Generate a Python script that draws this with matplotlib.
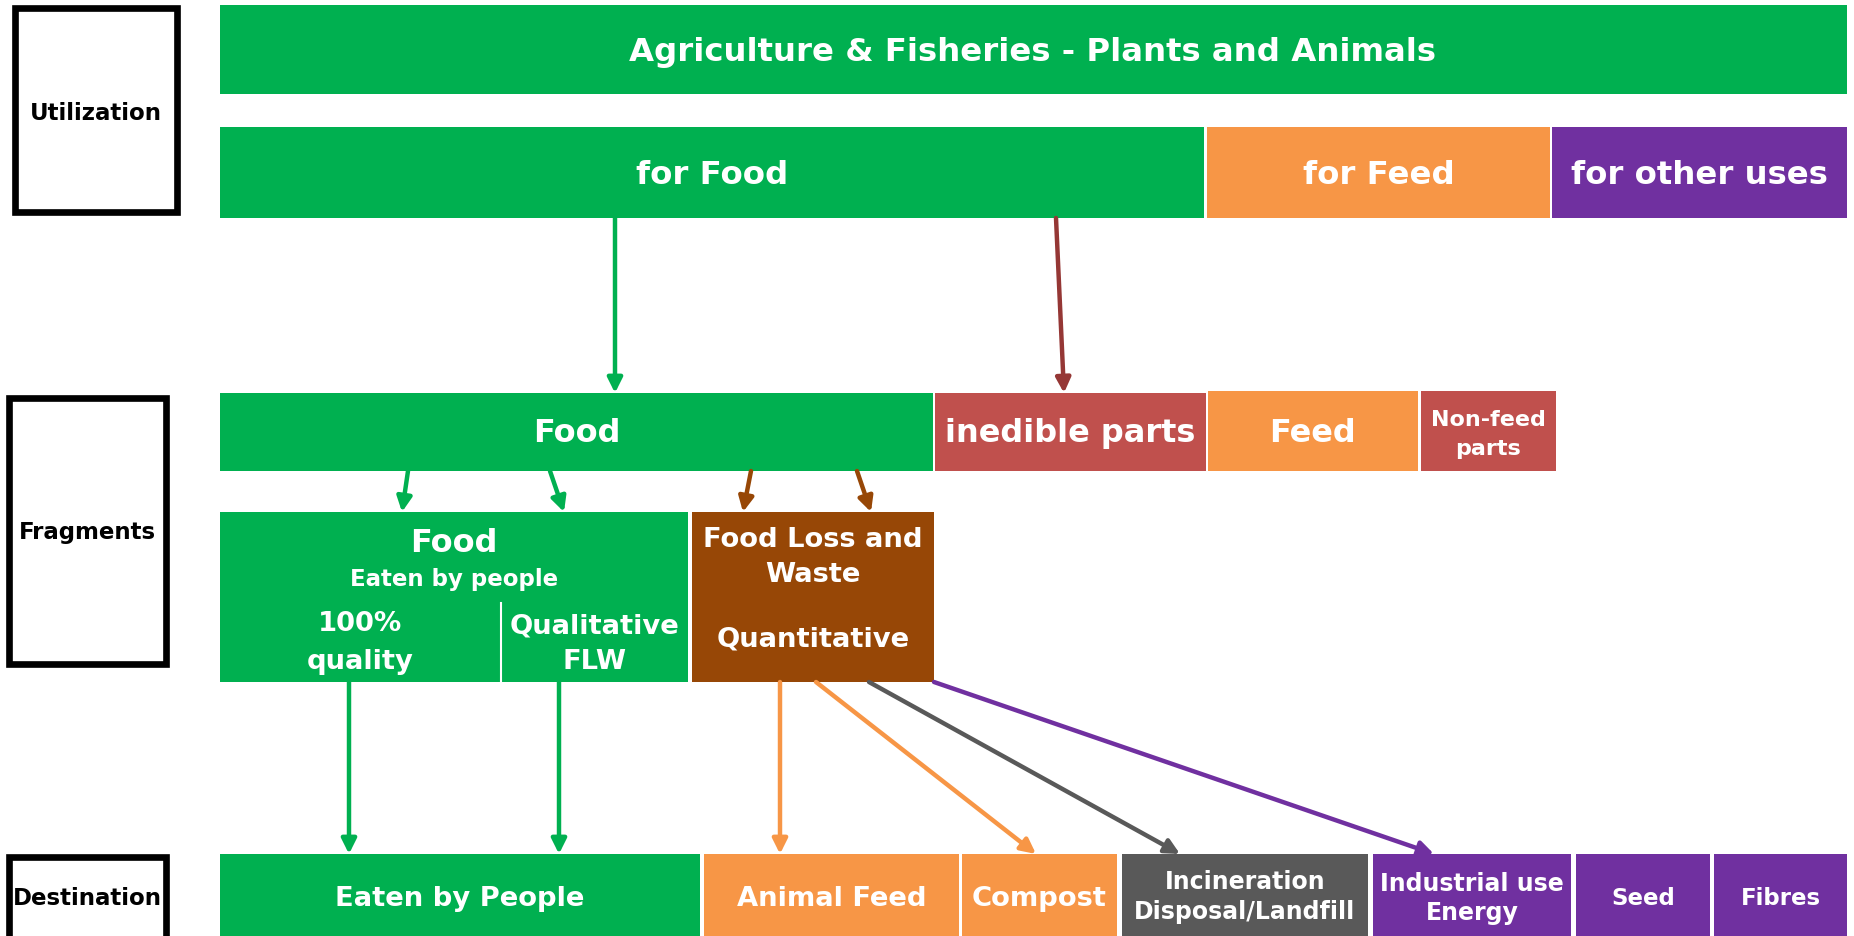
import matplotlib.pyplot as plt
from matplotlib.patches import Rectangle, FancyArrowPatch

GREEN = '#00B050'
ORANGE = '#F79646'
PURPLE = '#7030A0'
RED = '#C0504D'
BROWN = '#974706'
GREY = '#595959'
DARKRED = '#953735'

# labels of the diagram
row_labels = ['Utilization', 'Fragments', 'Destination']
top_label = 'Agriculture & Fisheries - Plants and Animals'
use_labels = ['for Food', 'for Feed', 'for other uses']
use_colors = [GREEN, ORANGE, PURPLE]
frag_labels = [['Food'], ['inedible parts'], ['Feed'], ['Non-feed', 'parts']]
frag_colors = [GREEN, RED, ORANGE, RED]
dest_labels = [['Eaten by People'], ['Animal Feed'], ['Compost'],
               ['Incineration', 'Disposal/Landfill'], ['Industrial use', 'Energy'],
               ['Seed'], ['Fibres']]
dest_colors = [GREEN, ORANGE, ORANGE, GREY, PURPLE, PURPLE, PURPLE]

# layout (pixel coordinates)
row_boxes = [(12, 6, 180, 216), (6, 396, 169, 668), (6, 855, 169, 960)]
row_text_y = [114, 533, 899]
use_x = [(220, 1204), (1207, 1550), (1552, 1847)]
frag_x = [(220, 933), (935, 1206), (1208, 1418), (1421, 1556)]
frag_top = [394, 394, 392, 392]
frag_fs = [23, 23, 23, 16]
frag_y = [[434], [434], [434], [420, 449]]
dest_x = [(220, 700), (704, 959), (962, 1117), (1122, 1368), (1373, 1571),
          (1576, 1710), (1714, 1847)]
dest_fs = [19.7, 19.7, 19.7, 17, 17, 16.5, 16.5]
dest_y = [[899], [899], [899], [882, 912], [884, 913], [899], [899]]

arrows = [
    ((615, 219), (615, 394), GREEN),
    ((1056, 219), (1064, 394), DARKRED),
    ((408, 472), (402, 513), GREEN),
    ((550, 472), (564, 513), GREEN),
    ((751, 472), (743, 513), BROWN),
    ((857, 472), (871, 513), BROWN),
    ((349, 683), (349, 855), GREEN),
    ((559, 683), (559, 855), GREEN),
    ((780, 683), (780, 855), ORANGE),
    ((816, 683), (1036, 855), ORANGE),
    ((869, 683), (1180, 855), GREY),
    ((934, 683), (1434, 855), PURPLE),
]

fig = plt.figure(figsize=(18.54, 9.37), dpi=100)
ax = fig.add_axes([0, 0, 1, 1])
ax.set_xlim(0, 1854)
ax.set_ylim(937, 0)
ax.axis('off')


def box(x0, y0, x1, y1, color):
    ax.add_patch(Rectangle((x0, y0), x1 - x0, y1 - y0, facecolor=color,
                           edgecolor='none', zorder=1))


def label(x, ys, lines, fs, color='white'):
    for y, s in zip(ys, lines):
        ax.text(x, y, s, ha='center', va='center', fontsize=fs, color=color,
                fontweight='bold', family='DejaVu Sans', zorder=3)


# left row boxes
for (x0, y0, x1, y1), name, ty in zip(row_boxes, row_labels, row_text_y):
    ax.add_patch(Rectangle((x0 + 3, y0 + 3), x1 - x0 - 6, y1 - y0 - 6,
                           facecolor='white', edgecolor='black', lw=4.8, zorder=1))
    label((x0 + x1) / 2, [ty], [name], 16.5, 'black')

# top bar
box(220, 6, 1847, 95, GREEN)
label(1033, [52], [top_label], 23.3)

# uses
for (x0, x1), s, c in zip(use_x, use_labels, use_colors):
    box(x0, 128, x1, 219, c)
    label((x0 + x1) / 2, [175], [s], 23.3)

# fragments
for (x0, x1), lines, c, fs, top, ys in zip(frag_x, frag_labels, frag_colors,
                                          frag_fs, frag_top, frag_y):
    box(x0, top, x1, 472, c)
    label((x0 + x1) / 2, ys, lines, fs)

# food eaten by people / food loss and waste
box(220, 513, 688, 683, GREEN)
ax.plot([501, 501], [604, 683], color='white', lw=1.5, zorder=2)
label(454, [544], ['Food'], 23)
label(454, [580], ['Eaten by people'], 16.5)
label(360, [624, 662], ['100%', 'quality'], 19.7)
label(595, [627, 662], ['Qualitative', 'FLW'], 19.7)

box(692, 513, 934, 683, BROWN)
label(813, [540, 575], ['Food Loss and', 'Waste'], 19.7)
label(813, [640], ['Quantitative'], 19.7)

# destinations
for (x0, x1), lines, c, fs, ys in zip(dest_x, dest_labels, dest_colors,
                                     dest_fs, dest_y):
    box(x0, 855, x1, 960, c)
    label((x0 + x1) / 2, ys, lines, fs)

# arrows
for (p0, p1, c) in arrows:
    ax.add_patch(FancyArrowPatch(p0, p1, arrowstyle='-|>', mutation_scale=22,
                                 color=c, lw=3.2, shrinkA=0, shrinkB=0, zorder=2))

fig.savefig('out.png', dpi=100, facecolor='white')
